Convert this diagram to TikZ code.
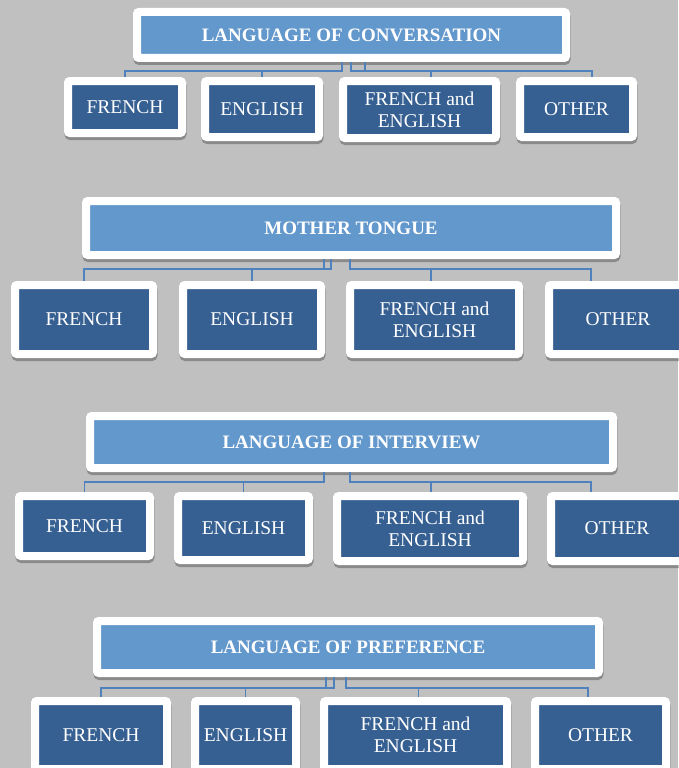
\documentclass[tikz,border=0pt]{standalone}
\usepackage{fontspec}
\setmainfont{Liberation Serif}
\usepackage{tikz}
\usetikzlibrary{shadows}
\definecolor{bggray}{RGB}{192,192,192}
\definecolor{headblue}{RGB}{99,152,204}
\definecolor{optblue}{RGB}{55,96,146}
\definecolor{linkblue}{RGB}{79,129,189}
\tikzset{frame/.style={draw=white,line width=8pt,rounded corners=2pt,inner sep=0pt,text=white,align=center,
		drop shadow={shadow xshift=0.5pt,shadow yshift=-3pt,opacity=.28,fill=black,draw=black,line width=8pt}},
	wh/.style 2 args={minimum width=#1pt-8pt,minimum height=#2pt-8pt},
	head/.style={frame,fill=headblue,font=\fontsize{19}{22}\selectfont\bfseries},
	opt/.style={frame,fill=optblue,font=\fontsize{19.5}{22}\selectfont},
	link/.style={draw=linkblue,line width=1.4pt}}

\begin{document}
\begin{tikzpicture}[x=1pt,y=-1pt]
		\useasboundingbox (0,0) rectangle (678,768);
		\fill[bggray] (0,0) rectangle (678,768);
		
		% language of conversation
		\node[head,wh={437}{54}] (cv) at (351.5,35){LANGUAGE OF CONVERSATION};
		\node[opt,wh={122}{60}] (cvFr) at (125,107){FRENCH};
		\node[opt,wh={122}{64}] (cvEn) at (262,109){ENGLISH};
		\node[opt,wh={161}{65}] (cvBoth) at (419.5,109.5){FRENCH and\\ENGLISH};
		\node[opt,wh={121}{64}] (cvOth) at (576.5,109){OTHER};
		
		\draw[link] ([xshift=-9.5pt]cv.south) -- ++(0,9) -| (cvFr.north);
		\draw[link] ([xshift=-9.5pt]cv.south) -- ++(0,9) -| (cvEn.north);
		\draw[link] ([xshift=-0.5pt]cv.south) -- ++(0,9) -| ([xshift=11.5pt]cvBoth.north);
		\draw[link] ([xshift=13.5pt]cv.south) -- ++(0,9) -| ([xshift=15.5pt]cvOth.north);
		
		% mother tongue
		\node[head,wh={538}{62}] (mt) at (351,228){MOTHER TONGUE};
		\node[opt,wh={146}{77}] (mtFr) at (84,319.5){FRENCH};
		\node[opt,wh={146}{77}] (mtEn) at (252,319.5){ENGLISH};
		\node[opt,wh={177}{77}] (mtBoth) at (434.5,319.5){FRENCH and\\ENGLISH};
		\node[opt,wh={146}{77}] (mtOth) at (618,319.5){OTHER};
		
		\draw[link] ([xshift=-27pt]mt.south) -- ++(0,10) -| (mtFr.north);
		\draw[link] ([xshift=-20pt]mt.south) -- ++(0,10) -| (mtEn.north);
		\draw[link] ([xshift=-1pt]mt.south) -- ++(0,10) -| ([xshift=-3.5pt]mtBoth.north);
		\draw[link] ([xshift=-1pt]mt.south) -- ++(0,10) -| ([xshift=-27pt]mtOth.north);
		
		% language of interview
		\node[head,wh={531}{60}] (iv) at (351.5,442){LANGUAGE OF INTERVIEW};
		\node[opt,wh={139}{68}] (ivFr) at (84.5,526){FRENCH};
		\node[opt,wh={139}{72}] (ivEn) at (243.5,528){ENGLISH};
		\node[opt,wh={194}{73}] (ivBoth) at (430,528.5){FRENCH and\\ENGLISH};
		\node[opt,wh={140}{73}] (ivOth) at (617,528.5){OTHER};
		
		\draw[link] ([xshift=-27.5pt]iv.south) -- ++(0,10) -| (ivFr.north);
		\draw[link] ([xshift=-27.5pt]iv.south) -- ++(0,10) -| (ivEn.north);
		\draw[link] ([xshift=-1.5pt]iv.south) -- ++(0,10) -| ([xshift=1pt]ivBoth.north);
		\draw[link] ([xshift=-1.5pt]iv.south) -- ++(0,10) -| ([xshift=-26pt]ivOth.north);
		
		% language of preference
		\node[head,wh={510}{60}] (pf) at (348,647){LANGUAGE OF PREFERENCE};
		\node[opt,wh={140}{76}] (pfFr) at (101,735){FRENCH};
		\node[opt,wh={109}{76}] (pfEn) at (245.5,735){ENGLISH};
		\node[opt,wh={191}{76}] (pfBoth) at (415.5,735){FRENCH and\\ENGLISH};
		\node[opt,wh={139}{76}] (pfOth) at (600.5,735){OTHER};
		
		\draw[link] ([xshift=-22pt]pf.south) -- ++(0,11) -| (pfFr.north);
		\draw[link] ([xshift=-14pt]pf.south) -- ++(0,11) -| (pfEn.north);
		\draw[link] ([xshift=-2pt]pf.south) -- ++(0,11) -| ([xshift=3pt]pfBoth.north);
		\draw[link] ([xshift=-2pt]pf.south) -- ++(0,11) -| ([xshift=-12.5pt]pfOth.north);
\end{tikzpicture}
\end{document}
